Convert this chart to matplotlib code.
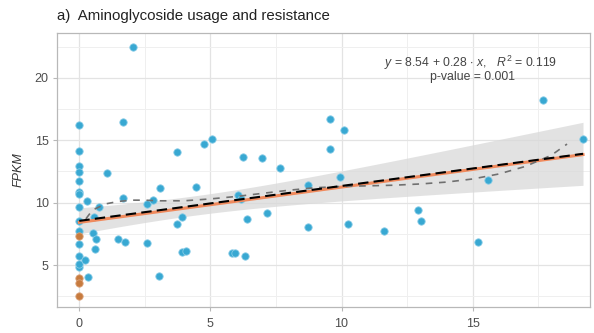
import numpy as np
import matplotlib
matplotlib.use("Agg")
import matplotlib.pyplot as plt

plt.rcParams['font.family'] = ['Liberation Sans', 'DejaVu Sans']
plt.rcParams['mathtext.fontset'] = 'custom'
plt.rcParams['mathtext.rm'] = 'Liberation Sans'
plt.rcParams['mathtext.it'] = 'Liberation Sans:italic'

# ---- data ----
usage_blue = [0, 0, 0, 0, 0, 0, 0, 0, 0, 0, 0, 0, 0, 0, 0.2,
              0.3, 0.74, 1.06, 0.56, 0.54, 0.64, 0.6, 0.33, 1.65, 1.49, 1.74,
              2.04, 1.65, 2.57, 2.8, 3.08, 2.57, 3.03, 3.71, 3.92, 3.91, 4.06,
              4.44, 3.74, 4.75, 5.05, 5.81, 5.94, 6.32, 6.07, 6.15, 6.38,
              6.25, 6.95, 7.14, 7.65, 8.73, 8.73, 9.56, 10.09, 9.56, 9.94,
              10.26, 11.62, 12.9, 13.02, 15.21, 15.59, 17.7, 19.21]
fpkm_blue = [16.2, 14.17, 12.92, 12.44, 11.76, 10.83, 10.72, 9.68, 8.53, 7.75,
             6.68, 5.72, 4.82, 5.1, 5.4,
             10.16, 9.68, 12.36, 8.83, 7.59, 7.11, 6.26, 4.02, 10.38, 7.06, 6.88,
             22.5, 16.5, 9.87, 10.22, 11.18, 6.79, 4.15, 8.29, 8.83, 6.02, 6.13,
             11.28, 14.04, 14.7, 15.08, 5.99, 5.99, 5.75, 10.62, 10.27, 8.67,
             13.64, 13.58, 9.15, 12.77, 11.42, 8.08, 16.71, 15.83, 14.33, 12.08,
             8.29, 7.73, 9.41, 8.56, 6.88, 11.82, 18.24, 15.08]
usage_orange = [0, 0, 0, 0]
fpkm_orange = [7.33, 3.94, 3.54, 2.52]

fit_intercept = 8.54
fit_slope = 0.28
alt_intercept = 8.42
alt_slope = 0.283

loess_x = [0.25, 0.5, 1.0, 1.5, 2.0, 2.5, 3.0, 4.0, 5.0, 6.0, 7.0, 8.0, 9.0, 10.0,
           11.0, 12.0, 13.0, 14.0, 15.0, 16.0, 17.0, 18.0, 18.6]
loess_y = [8.7, 9.4, 9.9, 10.1, 10.2, 10.2, 10.15, 10.15, 10.3, 10.5, 10.75, 11.0,
           11.2, 11.3, 11.35, 11.4, 11.5, 11.65, 11.9, 12.3, 12.9, 13.8, 14.7]

x_ticks = [0, 5, 10, 15]
y_ticks = [5, 10, 15, 20]
title = "a)  Aminoglycoside usage and resistance"
eq_text = r"$y$ = 8.54 + 0.28 $\cdot$ $x$,   $R^2$ = 0.119"
p_text = "p-value = 0.001"

# ---- figure ----
fig = plt.figure(figsize=(5.94, 3.33), dpi=100)
ax = fig.add_axes([0.096, 0.078, 0.897, 0.823])

xa = np.array(usage_blue + usage_orange, dtype=float)
ya = np.array(fpkm_blue + fpkm_orange, dtype=float)
n = len(xa)
resid = ya - (fit_intercept + fit_slope * xa)
s = np.sqrt(np.sum(resid ** 2) / (n - 2))
xbar = xa.mean()
sxx = np.sum((xa - xbar) ** 2)
xs = np.linspace(0, xa.max(), 200)
yfit = fit_intercept + fit_slope * xs
se = s * np.sqrt(1 / n + (xs - xbar) ** 2 / sxx)
ax.fill_between(xs, yfit - 1.7 * se, yfit + 1.7 * se, color='#d9d9d9',
                alpha=0.75, lw=0, zorder=2)

ax.scatter(usage_blue, fpkm_blue, s=28, color='#38a8d2', edgecolor='#86cbe6',
           linewidth=0.6, zorder=3)
ax.scatter(usage_orange, fpkm_orange, s=28, color='#c77b3e', edgecolor='#dba27a',
           linewidth=0.6, zorder=3)

ax.plot(xs, alt_intercept + alt_slope * xs, color='#f08a5d', lw=2.2, zorder=4)
ax.plot(xs, yfit, color='black', lw=1.5, ls=(0, (5, 2.5)), zorder=5)
ax.plot(loess_x, loess_y, color='#707070', lw=1.2, ls=(0, (4, 4)), zorder=4)

ax.set_xlim(-0.85, 19.47)
ax.set_ylim(1.63, 23.61)
ax.set_xticks(x_ticks)
ax.set_yticks(y_ticks)
ax.set_xticks([2.5, 7.5, 12.5, 17.5], minor=True)
ax.set_yticks([2.5, 7.5, 12.5, 17.5, 22.5], minor=True)
ax.grid(which='major', color='#e3e3e3', lw=0.9, zorder=0)
ax.grid(which='minor', color='#efefef', lw=0.7, zorder=0)
ax.set_axisbelow(True)
for sp in ax.spines.values():
    sp.set_color('#b8b8b8')
    sp.set_linewidth(0.9)
ax.tick_params(which='major', length=3, color='#b8b8b8', labelsize=9,
               labelcolor='#4d4d4d', pad=3)
ax.tick_params(axis='x', which='major', pad=5)
ax.tick_params(which='minor', length=0)
ax.set_ylabel('FPKM', fontstyle='italic', fontsize=9, color='#333333', labelpad=7)

ax.text(0.777, 0.89, eq_text, transform=ax.transAxes, ha='center', va='center',
        fontsize=8.8, color='#444444', zorder=6)
ax.text(0.779, 0.839, p_text, transform=ax.transAxes, ha='center', va='center',
        fontsize=8.8, color='#444444', zorder=6)

fig.text(0.096, 0.952, title, ha='left', va='center', fontsize=10.8, color='#222222')

fig.savefig('out.png', dpi=100)
